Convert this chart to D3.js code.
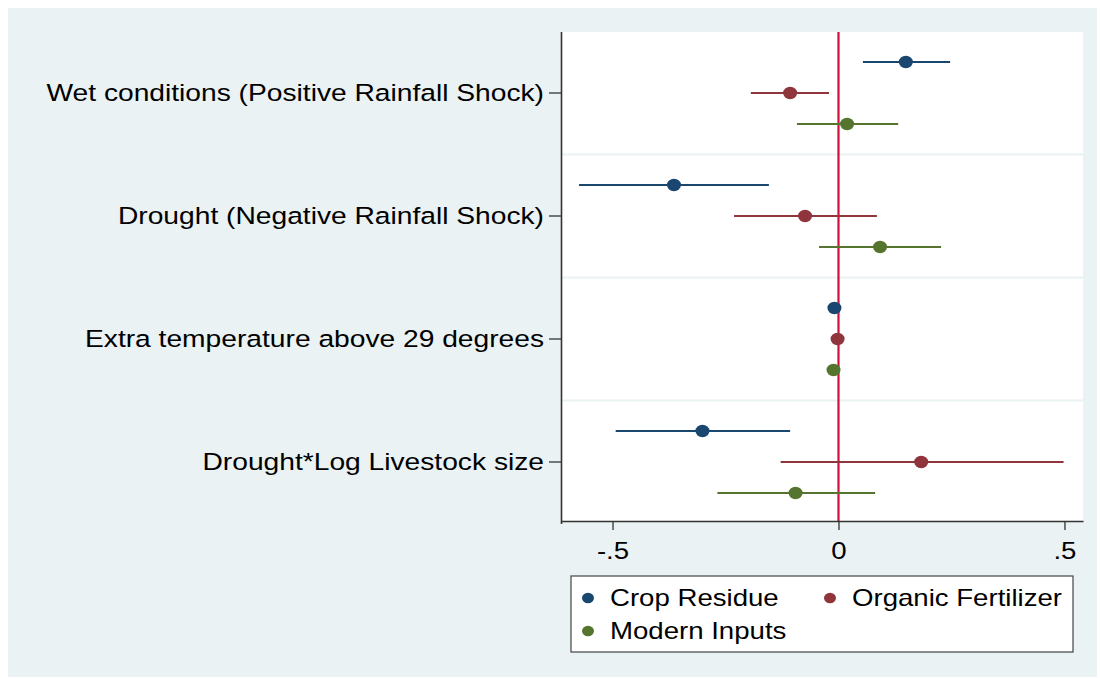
<!DOCTYPE html>
<html>
<head>
<meta charset="utf-8">
<script src="https://cdn.jsdelivr.net/npm/d3@7"></script>
<style>
  body { margin: 0; background: #fff; }
  text { font-family: "Liberation Sans", Arial, sans-serif; fill: #000; }
</style>
</head>
<body>
<div id="chart"></div>
<script>
const categories = [
  "Wet conditions (Positive Rainfall Shock)",
  "Drought (Negative Rainfall Shock)",
  "Extra temperature above 29 degrees",
  "Drought*Log Livestock size"
];
const seriesNames = ["Crop Residue", "Organic Fertilizer", "Modern Inputs"];
const seriesColors = ["#1a476f", "#90353b", "#55752f"];

// point estimates and 95% CI per category
const cropEst = [0.149, -0.364, -0.009, -0.301];
const cropLo = [0.054, -0.574, -0.011, -0.493];
const cropHi = [0.247, -0.154, -0.007, -0.107];

const orgEst = [-0.107, -0.074, -0.002, 0.183];
const orgLo = [-0.194, -0.231, -0.004, -0.128];
const orgHi = [-0.021, 0.085, 0.000, 0.498];

const modEst = [0.019, 0.092, -0.011, -0.095];
const modLo = [-0.092, -0.043, -0.013, -0.268];
const modHi = [0.132, 0.227, -0.009, 0.081];

const xTicks = [-0.5, 0, 0.5];

const W = 1100, H = 678;
const PLOT = { L: 561, R: 1083, T: 32, B: 521 };
const SX = 1.2; // picture is stretched sideways

const fmt = d => d === 0 ? "0" : (d < 0 ? "-" : "") + String(Math.abs(d)).replace("0.", ".");

const svg = d3.select("#chart").append("svg")
  .attr("width", W).attr("height", H);

// outer background
svg.append("rect").attr("x", 8).attr("y", 8).attr("width", 1089).attr("height", 669)
  .attr("fill", "#eaf2f3");
svg.append("rect").attr("x", PLOT.L).attr("y", PLOT.T)
  .attr("width", PLOT.R - PLOT.L).attr("height", PLOT.B - PLOT.T)
  .attr("fill", "#fff");

const x = d3.scaleLinear().domain([-0.614, 0.541]).range([PLOT.L, PLOT.R]);
const y = d3.scaleBand().domain(categories).range([31.5, 523.5]);
const off = d3.scalePoint().domain(seriesNames).range([-31, 31]);

// gridlines between categories
svg.append("g").selectAll("line")
  .data(categories.slice(1))
  .join("line")
  .attr("x1", PLOT.L).attr("x2", PLOT.R)
  .attr("y1", d => y(d)).attr("y2", d => y(d))
  .attr("stroke", "#eaf2f3").attr("stroke-width", 2);

// zero line
svg.append("line")
  .attr("x1", x(0)).attr("x2", x(0))
  .attr("y1", PLOT.T).attr("y2", PLOT.B)
  .attr("stroke", "#d0103a").attr("stroke-width", 2.2);

const series = [
  { name: seriesNames[0], est: cropEst, lo: cropLo, hi: cropHi },
  { name: seriesNames[1], est: orgEst, lo: orgLo, hi: orgHi },
  { name: seriesNames[2], est: modEst, lo: modLo, hi: modHi }
];

series.forEach((s, si) => {
  const g = svg.append("g");
  const rows = categories.map((c, i) => ({ c, est: s.est[i], lo: s.lo[i], hi: s.hi[i] }));
  const cy = d => y(d.c) + y.bandwidth() / 2 + off(s.name);
  g.selectAll("line").data(rows).join("line")
    .attr("x1", d => x(d.lo)).attr("x2", d => x(d.hi))
    .attr("y1", cy).attr("y2", cy)
    .attr("stroke", seriesColors[si]).attr("stroke-width", 2);
  g.selectAll("ellipse").data(rows).join("ellipse")
    .attr("cx", d => x(d.est)).attr("cy", cy)
    .attr("rx", 7).attr("ry", 6.2)
    .attr("fill", seriesColors[si]);
});

// axes
const xAxis = svg.append("g")
  .attr("transform", `translate(0,${PLOT.B})`)
  .call(d3.axisBottom(x).tickValues(xTicks).tickSize(9).tickSizeOuter(0).tickFormat(fmt));
xAxis.select(".domain").attr("stroke", "#333").attr("stroke-width", 1.6);
xAxis.selectAll(".tick line").attr("stroke", "#333").attr("stroke-width", 1.3);
xAxis.selectAll(".tick text").remove();
xAxis.selectAll(".tick").append("text")
  .attr("text-anchor", "middle")
  .attr("transform", `translate(0,38) scale(${SX},1)`)
  .attr("font-size", 23)
  .text(fmt);

const yAxis = svg.append("g")
  .attr("transform", `translate(${PLOT.L},0)`)
  .call(d3.axisLeft(y).tickSize(12).tickSizeOuter(0));
yAxis.select(".domain").attr("stroke", "#333").attr("stroke-width", 1.6);
yAxis.selectAll(".tick line").attr("stroke", "#333").attr("stroke-width", 1.3);
yAxis.selectAll(".tick text").remove();
yAxis.selectAll(".tick").append("text")
  .attr("text-anchor", "end")
  .attr("transform", `translate(-17,8) scale(${SX},1)`)
  .attr("font-size", 23.5)
  .text(d => d);

// legend
const legend = svg.append("g").attr("transform", "translate(571,576)");
legend.append("rect").attr("width", 502).attr("height", 76)
  .attr("fill", "#fff").attr("stroke", "#444").attr("stroke-width", 1.2);
const legPos = [[17, 22], [259, 22], [17, 55]];
const items = legend.selectAll("g.item").data(seriesNames).join("g")
  .attr("class", "item")
  .attr("transform", (d, i) => `translate(${legPos[i][0]},${legPos[i][1]})`);
items.append("ellipse").attr("rx", 6).attr("ry", 5.3)
  .attr("fill", (d, i) => seriesColors[i]);
items.append("text")
  .attr("transform", `translate(22,8) scale(${SX},1)`)
  .attr("font-size", 23)
  .text(d => d);
</script>
</body>
</html>
